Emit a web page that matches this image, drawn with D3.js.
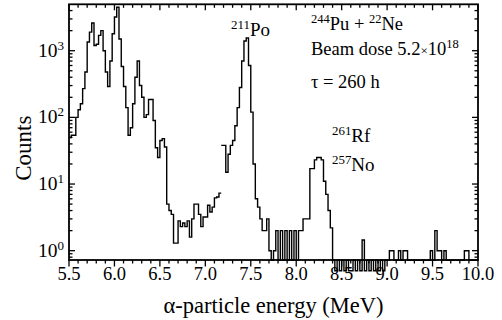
<!DOCTYPE html>
<html>
<head>
<meta charset="utf-8">
<script src="https://cdn.jsdelivr.net/npm/d3@7"></script>
<style>
  body { margin: 0; background: #fff; }
  svg { display: block; }
  text { font-family: "Liberation Serif", "Times New Roman", serif; fill: #000; }
</style>
</head>
<body>
<svg id="chart" width="502" height="320"></svg>
<script>
// spectrum data, 0.025 MeV bins (counts)
const binWidth = 0.025;
const lowStart = 5.5;     // 5.5 .. 7.175 MeV
const lowCounts = [
  50, 54, 54, 100, 130, 160, 270, 480, 1350, 1900,
  2600, 1200, 1250, 1700, 2000, 1000, 480, 290, 700, 1800,
  3200, 4500, 1500, 580, 290, 140, 54, 70, 160, 400,
  700, 300, 200, 100, 110, 185, 185, 90, 35, 25,
  45, 48, 36, 5, 4, 3.5, 1.3, 1.3, 2.8, 2.3,
  2.6, 2.3, 2.8, 1.6, 3, 5, 5, 3.5, 2.3, 3.2,
  3.2, 4.8, 3.8, 4.5, 6.2, 6.4, 7.3
];
const highStart = 7.175;  // 7.175 .. 10.0 MeV
const highCounts = [
  38, 38, 15, 28, 38, 45, 75, 140, 280, 700,
  1400, 1550, 600, 120, 20, 6, 4.5, 3, 2, 2,
  3, 1, 0.72, 1, 2, 0.72, 2, 0.72, 2, 0.72,
  2, 0.72, 2, 0.72, 2, 2, 3, 3, 3, 17,
  17, 23, 25, 25, 23, 11, 7, 4, 2.2, 0.72,
  0.5, 0.72, 0.5, 0.72, 0.5, 0.72, 0.5, 0.5, 0.72, 0.5,
  0.72, 0.5, 1.45, 0.5, 0.72, 0.5, 0.72, 0.5, 0.72, 0.5,
  0.72, 0.5, 0.72, 0.72, 1, 1, 0.72, 0.72, 1, 0.72,
  1, 1, 0.72, 0.72, 0.72, 0.72, 0.72, 0.72, 0.72, 0.72,
  0.72, 0.72, 1, 0.72, 2, 1, 1, 0.72, 1, 0.72,
  0.72, 0.72, 0.72, 0.72, 0.72, 0.72, 0.72, 1, 1, 0.72,
  0.72, 0.72, 0.72
];

const xMajorTicks = [5.5, 6.0, 6.5, 7.0, 7.5, 8.0, 8.5, 9.0, 9.5, 10.0];
const yDecades = [0, 1, 2, 3];

const W = 502, H = 320;
const margin = {top: 4.3, right: 24, bottom: 60, left: 69};
const svg = d3.select('#chart');

const x = d3.scaleLinear().domain([5.5, 10.0]).range([margin.left, W - margin.right]);
const y = d3.scaleLog().domain([0.725, 4970]).range([H - margin.bottom, margin.top]);

const x0 = margin.left, x1 = W - margin.right;
const y0 = H - margin.bottom, y1 = margin.top;

// minor tick values
const xMinor = d3.range(55, 101).map(v => v / 10).filter(v => !xMajorTicks.some(m => Math.abs(m - v) < 1e-6));
const yMinor = [];
for (let d = -1; d <= 3; d++) {
  for (let k = 2; k <= 9; k++) {
    const v = k * Math.pow(10, d);
    if (v >= 0.725 && v <= 4970) yMinor.push(v);
  }
}

// histogram arms
function stepPoints(start, counts) {
  const pts = counts.map((c, i) => [start + i * binWidth, c]);
  pts.push([start + counts.length * binWidth, counts[counts.length - 1]]);
  return pts;
}
const line = d3.line()
  .x(d => x(d[0]))
  .y(d => y(d[1]))
  .curve(d3.curveStepAfter);

[stepPoints(lowStart, lowCounts), stepPoints(highStart, highCounts)].forEach(pts => {
  svg.append('path')
    .attr('d', line(pts))
    .attr('fill', 'none')
    .attr('stroke', '#000')
    .attr('stroke-width', 1.4);
});

// axes: bottom ticks outward, others inward
const g = svg.append('g').attr('stroke', '#000').attr('fill', 'none');
function addTicks(vals, fn) { vals.forEach(v => fn(v)); }
const seg = (xa, ya, xb, yb, w) => g.append('line')
  .attr('x1', xa).attr('y1', ya).attr('x2', xb).attr('y2', yb).attr('stroke-width', w || 1.3);

addTicks(xMajorTicks, v => { seg(x(v), y0, x(v), y0 + 6.5); seg(x(v), y1, x(v), y1 + 6); });
addTicks(xMinor, v => { seg(x(v), y0, x(v), y0 + 3.5); seg(x(v), y1, x(v), y1 + 3.5); });
addTicks(yDecades, d => { const yy = y(Math.pow(10, d)); seg(x0, yy, x0 + 6, yy); seg(x1, yy, x1 - 6, yy); });
addTicks(yMinor, v => { seg(x0, y(v), x0 + 3.5, y(v)); seg(x1, y(v), x1 - 3.5, y(v)); });

g.append('rect')
  .attr('x', x0).attr('y', y1)
  .attr('width', x1 - x0).attr('height', y0 - y1)
  .attr('stroke-width', 1.8);

// tick labels
svg.append('g').selectAll('text')
  .data(xMajorTicks)
  .join('text')
  .attr('x', d => x(d))
  .attr('y', y0 + 19.5)
  .attr('text-anchor', 'middle')
  .attr('font-size', 18.5)
  .text(d => d.toFixed(1));

const yl = svg.append('g').selectAll('text')
  .data(yDecades)
  .join('text')
  .attr('x', 38)
  .attr('y', d => y(Math.pow(10, d)) + 6)
  .attr('font-size', 19.5);
yl.append('tspan').text('10');
yl.append('tspan').attr('dy', -7).attr('font-size', 13).text(d => d);

// axis titles
svg.append('text')
  .attr('x', (x0 + x1) / 2)
  .attr('y', 313)
  .attr('text-anchor', 'middle')
  .attr('font-size', 22.5)
  .text('α-particle energy (MeV)');

svg.append('text')
  .attr('transform', `translate(31,${(y0 + y1) / 2 + 16}) rotate(-90)`)
  .attr('text-anchor', 'middle')
  .attr('font-size', 23)
  .text('Counts');

// annotations
function isotope(xp, yp, mass, sym, size) {
  const t = svg.append('text').attr('x', xp).attr('y', yp).attr('font-size', size);
  t.append('tspan').attr('dy', -7).attr('font-size', size * 0.68).text(mass);
  t.append('tspan').attr('dy', 7).text(sym);
  return t;
}
isotope(231, 36, '211', 'Po', 19);
isotope(332, 141.5, '261', 'Rf', 19);
isotope(332, 171, '257', 'No', 19);

const a1 = svg.append('text').attr('x', 311).attr('y', 30).attr('font-size', 18.5);
a1.append('tspan').attr('dy', -7).attr('font-size', 12.5).text('244');
a1.append('tspan').attr('dy', 7).text('Pu + ');
a1.append('tspan').attr('dy', -7).attr('font-size', 12.5).text('22');
a1.append('tspan').attr('dy', 7).text('Ne');

const a2 = svg.append('text').attr('x', 311).attr('y', 55).attr('font-size', 18.5);
a2.append('tspan').text('Beam dose 5.2');
a2.append('tspan').attr('font-size', 13).text('×');
a2.append('tspan').text('10');
a2.append('tspan').attr('dy', -7).attr('font-size', 12.5).text('18');

svg.append('text').attr('x', 311).attr('y', 88).attr('font-size', 18.5).text('τ = 260 h');
</script>
</body>
</html>
